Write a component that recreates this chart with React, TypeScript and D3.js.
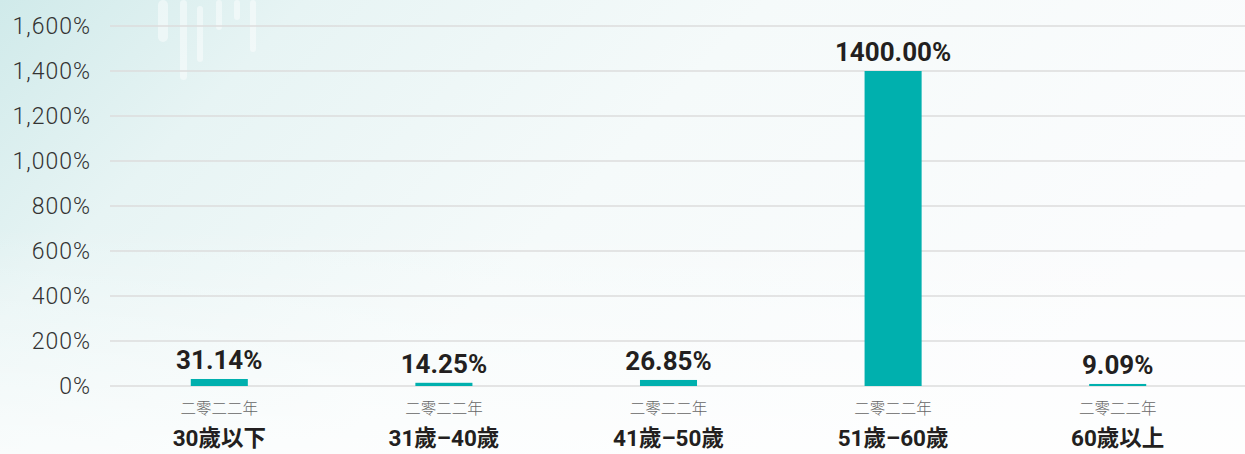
import React from 'react';
import {scaleBand, scaleLinear, format} from 'd3';

const categories = ['30歲以下', '31歲–40歲', '41歲–50歲', '51歲–60歲', '60歲以上'];
const values = [31.14, 14.25, 26.85, 1400.0, 9.09];
const valueLabels = ['31.14%', '14.25%', '26.85%', '1400.00%', '9.09%'];
const yearLabel = '二零二二年';
const ticks = [0, 200, 400, 600, 800, 1000, 1200, 1400, 1600];

const W = 1245;
const H = 454;
const margin = {t: 26, r: 0, b: 68, l: 110};

const fontLatin = 'Roboto, "Noto Sans", "Noto Sans CJK TC", sans-serif';
const fontCjk = 'Roboto, "Noto Sans CJK TC", sans-serif';

//Scales
const x = scaleBand<string>().domain(categories).range([107, 1230]).paddingInner(0.746).paddingOuter(0.373);
const y = scaleLinear().domain([0, 1600]).range([H - margin.b, margin.t]);
const fmt = format(',');

//Faint decorative background strokes
const deco = [
	{x: 158, y0: 0, y1: 42, w: 10},
	{x: 180, y0: 0, y1: 80, w: 7},
	{x: 197, y0: 6, y1: 62, w: 6},
	{x: 216, y0: 0, y1: 30, w: 6},
	{x: 234, y0: 0, y1: 20, w: 6},
	{x: 250, y0: 0, y1: 52, w: 6},
];

export default function App() {
	return (
		<svg width={W} height={H} style={{display: 'block', position: 'absolute', left: 0, top: 0}}>
			<defs>
				<linearGradient id='bg' x1='0' y1='0' x2='1' y2='0.35'>
					<stop offset='0' stopColor='#d0eaea' />
					<stop offset='0.22' stopColor='#e7f4f4' />
					<stop offset='0.55' stopColor='#f5fafa' />
					<stop offset='1' stopColor='#fbfcfd' />
				</linearGradient>
				<linearGradient id='fade' x1='0' y1='0' x2='0' y2='1'>
					<stop offset='0' stopColor='#ffffff' stopOpacity='0' />
					<stop offset='0.5' stopColor='#ffffff' stopOpacity='0' />
					<stop offset='1' stopColor='#ffffff' stopOpacity='0.7' />
				</linearGradient>
			</defs>
			<rect width={W} height={H} fill='url(#bg)' />
			<rect width={W} height={H} fill='url(#fade)' />
			{deco.map((d, i) => (
				<rect key={i} x={d.x} y={d.y0} width={d.w} height={d.y1 - d.y0} rx={d.w / 2} fill='#ffffff' opacity={0.45} />
			))}
			{/* grid + y axis */}
			<g>
				{ticks.map(t => (
					<g key={t}>
						<line x1={margin.l} x2={W} y1={y(t)} y2={y(t)} stroke='#dcdcdc' strokeWidth={1.5} />
						<text x={91} y={y(t)} dy='0.35em' textAnchor='end' fontFamily={fontLatin} fontWeight={300} fontSize={23} letterSpacing={1} fill='#333'>
							{fmt(t)}%
						</text>
					</g>
				))}
			</g>
			{/* bars */}
			{categories.map((c, i) => {
				const bx = x(c) as number;
				const top = y(values[i]);
				const cx = bx + x.bandwidth() / 2;
				return (
					<g key={c}>
						<rect x={bx} y={top} width={x.bandwidth()} height={y(0) - top} fill='#00b0ae' />
						<text x={cx} y={top - 10} textAnchor='middle' fontFamily={fontLatin} fontWeight={700} fontSize={26} fill='#231f20'>
							{valueLabels[i]}
						</text>
						<text x={cx} y={414} textAnchor='middle' fontFamily={fontCjk} fontWeight={300} fontSize={15.5} fill='#666'>
							{yearLabel}
						</text>
						<text x={cx} y={446} textAnchor='middle' fontFamily={fontCjk} fontWeight={700} fontSize={22.5} fill='#231f20'>
							{c}
						</text>
					</g>
				);
			})}
		</svg>
	);
}
